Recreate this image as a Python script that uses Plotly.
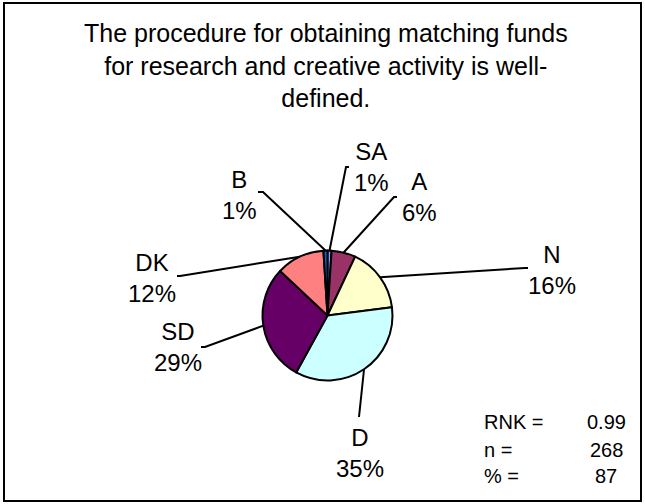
import math
import plotly.graph_objects as go

# ---- data ----
categories = ["SA", "A", "N", "D", "SD", "DK", "B"]
values = [1, 6, 16, 35, 29, 12, 1]
colors = ["#9999FF", "#993366", "#FFFFCC", "#CCFFFF", "#660066", "#FF8080", "#0066CC"]
title_text = "The procedure for obtaining matching funds<br>for research and creative activity is well-<br>defined."
stat_labels = ["RNK =", "n =", "% ="]
stat_values = ["0.99", "268", "87"]

# ---- layout constants (pixels) ----
W, H = 645, 504
CX, CY, R = 327.5, 315.5, 65
# leader-line elbow, tick end, label centre per category
label_layout = {
    "SA": dict(elbow=(346, 167), tick=(349, 167), text=(371, 167)),
    "A": dict(elbow=(394, 197), tick=(397, 197), text=(419, 197)),
    "N": dict(elbow=(525, 268), tick=(528, 268), text=(552, 270)),
    "D": dict(elbow=(359, 417), tick=(359, 417), text=(360, 453)),
    "SD": dict(elbow=(205, 347), tick=(201, 347), text=(178, 347)),
    "DK": dict(elbow=(180, 276), tick=(177, 276), text=(152, 278)),
    "B": dict(elbow=(263, 192), tick=(258, 192), text=(239, 195)),
}


def px(x):
    return x / W


def py(y):
    return 1 - y / H


FONT = "Liberation Sans, Arial, sans-serif"

fig = go.Figure()
fig.add_trace(go.Pie(
    labels=categories,
    values=values,
    sort=False,
    direction="clockwise",
    rotation=0,
    marker=dict(colors=colors, line=dict(color="black", width=2)),
    textinfo="none",
    hoverinfo="label+percent",
    showlegend=False,
    domain=dict(x=[px(CX - R), px(CX + R)], y=[py(CY + R), py(CY - R)]),
))

shapes = []
annotations = []
total = sum(values)
cum = 0
for cat, v in zip(categories, values):
    theta = 2 * math.pi * (cum + v / 2) / total
    cum += v
    sx = CX + R * math.sin(theta)
    sy = CY - R * math.cos(theta)
    lay = label_layout[cat]
    ex, ey = lay["elbow"]
    tx, ty = lay["tick"]
    path = f"M {px(sx)} {py(sy)} L {px(ex)} {py(ey)} L {px(tx)} {py(ty)}"
    shapes.append(dict(type="path", xref="paper", yref="paper", path=path,
                       line=dict(color="black", width=2)))
    pct = round(100 * v / total)
    lx, ly = lay["text"]
    annotations.append(dict(x=px(lx), y=py(ly), xref="paper", yref="paper",
                            text=f"{cat}<br>{pct}%", showarrow=False,
                            xanchor="center", yanchor="middle",
                            font=dict(family=FONT, size=24, color="black")))

# title
annotations.append(dict(x=px(326), y=py(66), xref="paper", yref="paper",
                        text=title_text, showarrow=False,
                        xanchor="center", yanchor="middle",
                        font=dict(family=FONT, size=25, color="black")))

# stats block
stat_y = [422, 450, 476]
for lab, val, yy in zip(stat_labels, stat_values, stat_y):
    annotations.append(dict(x=px(482), y=py(yy), xref="paper", yref="paper",
                            text=lab, showarrow=False, xanchor="left", yanchor="middle",
                            font=dict(family=FONT, size=20, color="black")))
    annotations.append(dict(x=px(606), y=py(yy), xref="paper", yref="paper",
                            text=val, showarrow=False, xanchor="center", yanchor="middle",
                            font=dict(family=FONT, size=20, color="black")))

# border
shapes.append(dict(type="rect", xref="paper", yref="paper",
                   x0=px(4), x1=px(641), y0=py(501), y1=py(3),
                   line=dict(color="black", width=2), fillcolor="rgba(0,0,0,0)"))

fig.update_layout(
    width=W, height=H,
    margin=dict(l=0, r=0, t=0, b=0),
    paper_bgcolor="white",
    plot_bgcolor="white",
    shapes=shapes,
    annotations=annotations,
)

fig.write_html(
    "out.html",
    config={"displayModeBar": False},
    post_script="document.body.style.margin='0';document.body.style.padding='0';"
                "document.body.style.overflow='hidden';",
)
